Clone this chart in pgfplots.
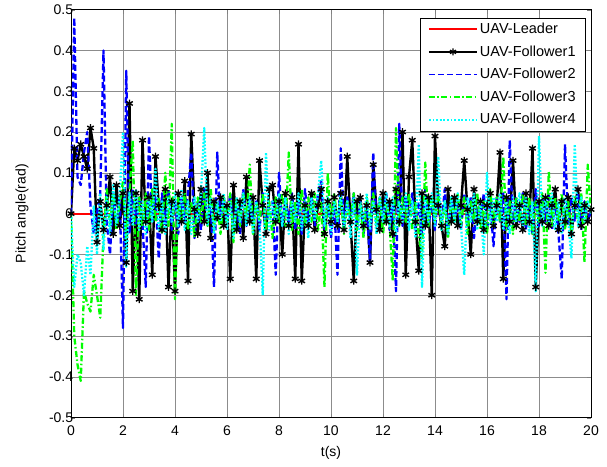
\documentclass[border=0pt]{standalone}
\usepackage{pgfplots}
\usepackage{pgfplotstable}
\pgfplotsset{compat=1.18}
\usepackage{fontspec}
\setmainfont{Liberation Sans}

\definecolor{mred}{rgb}{1,0,0}
\definecolor{mblue}{rgb}{0,0,1}
\definecolor{mgreen}{rgb}{0,1,0}
\definecolor{mcyan}{rgb}{0,1,1}

% t, follower1..4 (leader stays at 0)
\pgfplotstableread{
t f1 f2 f3 f4
0 0 0 0 0
0.125 0.16 0.48 -0.30 -0.18
0.25 0.13 0.09 -0.37 -0.10
0.375 0.17 0.07 -0.41 -0.12
0.5 0.14 0.15 -0.19 -0.20
0.625 0.11 0.20 -0.22 -0.08
0.75 0.21 0.02 -0.24 -0.15
0.875 0.16 -0.05 -0.15 0.02
1.0 -0.07 0.00 -0.20 -0.10
1.125 0.03 0.05 -0.255 0.05
1.25 -0.04 0.40 -0.05 -0.09
1.375 0.02 -0.02 0.06 0.04
1.5 0.09 -0.10 -0.03 -0.05
1.625 -0.05 0.05 0.05 0.07
1.75 0.07 -0.03 -0.04 -0.03
1.875 -0.03 0.04 0.03 0.05
2.0 0.05 -0.28 0.08 0.20
2.125 -0.12 0.35 -0.06 -0.13
2.25 0.27 -0.05 0.05 0.05
2.375 -0.19 0.06 0.18 -0.03
2.5 0.05 -0.03 -0.20 0.06
2.625 -0.21 0.04 0.04 -0.04
2.75 0.18 -0.02 -0.03 0.03
2.875 -0.02 -0.18 0.05 -0.05
3.0 0.04 0.19 -0.04 0.04
3.125 -0.15 -0.02 0.06 -0.02
3.25 0.14 0.04 -0.02 0.11
3.375 0.02 -0.11 0.04 -0.04
3.5 -0.04 0.05 -0.05 0.03
3.625 0.06 -0.03 0.10 -0.05
3.75 -0.18 0.06 -0.03 0.04
3.875 0.03 -0.04 0.22 -0.02
4.0 -0.19 0.03 -0.21 0.05
4.125 0.05 -0.05 0.04 -0.03
4.25 -0.02 0.04 -0.02 0.06
4.375 0.08 -0.02 0.05 -0.04
4.5 -0.165 0.05 -0.04 0.03
4.625 0.195 0.15 0.03 -0.05
4.75 0.01 -0.06 -0.06 0.04
4.875 -0.05 0.03 0.04 -0.02
5.0 0.06 -0.04 -0.02 0.05
5.125 -0.02 0.06 0.05 0.21
5.25 0.10 -0.02 -0.03 -0.03
5.375 -0.06 0.03 0.06 0.04
5.5 0.03 -0.18 -0.04 -0.05
5.625 -0.01 0.15 0.03 0.03
5.75 0.04 -0.03 -0.05 -0.02
5.875 -0.03 0.04 0.04 0.05
6.0 0.02 -0.02 -0.02 -0.04
6.125 -0.16 0.05 0.05 0.03
6.25 0.07 -0.04 -0.07 -0.06
6.375 -0.04 0.02 0.04 0.04
6.5 0.03 -0.05 -0.03 -0.02
6.625 -0.06 0.06 0.05 0.05
6.75 0.09 -0.03 -0.02 -0.03
6.875 -0.02 0.04 0.12 0.04
7.0 0.04 -0.02 -0.05 -0.05
7.125 -0.16 0.03 0.03 0.03
7.25 0.13 -0.04 -0.02 -0.02
7.375 0.02 0.05 0.05 -0.20
7.5 -0.05 -0.03 -0.04 0.15
7.625 0.06 0.02 0.03 -0.04
7.75 0.07 0.03 -0.06 0.03
7.875 -0.02 -0.15 0.04 -0.02
8.0 0.03 0.10 -0.02 0.05
8.125 -0.10 -0.03 0.05 -0.03
8.25 0.05 0.04 -0.03 0.04
8.375 -0.03 -0.02 0.15 -0.05
8.5 0.04 0.05 -0.04 0.03
8.625 -0.16 -0.04 0.03 -0.02
8.75 0.17 0.03 -0.05 0.05
8.875 -0.165 -0.05 0.06 -0.04
9.0 0.02 0.06 -0.03 0.03
9.125 -0.03 -0.02 0.04 -0.06
9.25 0.05 0.04 -0.02 0.04
9.375 -0.04 -0.03 0.05 -0.02
9.5 0.02 0.05 -0.04 0.05
9.625 0.06 0.08 0.03 0.13
9.75 -0.05 -0.04 -0.18 -0.03
9.875 0.03 0.03 0.10 0.04
10.0 -0.02 -0.06 -0.03 -0.05
10.125 0.04 0.02 0.05 0.03
10.25 -0.03 -0.15 -0.02 -0.02
10.375 0.05 0.16 0.04 0.05
10.5 -0.04 -0.03 -0.05 -0.04
10.625 0.14 0.04 0.03 0.03
10.75 -0.02 -0.02 -0.02 -0.06
10.875 -0.165 0.05 0.05 0.04
11.0 0.03 -0.04 -0.04 -0.15
11.125 0.04 0.03 0.03 0.03
11.25 -0.03 -0.05 -0.06 -0.02
11.375 0.02 0.02 0.04 0.05
11.5 -0.12 -0.12 -0.02 -0.04
11.625 0.12 0.15 0.05 0.03
11.75 0.01 -0.03 -0.03 -0.05
11.875 -0.04 0.04 0.04 0.04
12.0 0.05 -0.02 -0.05 -0.02
12.125 -0.02 0.05 0.03 0.05
12.25 0.03 -0.04 -0.02 -0.03
12.375 -0.05 0.03 -0.165 0.04
12.5 0.06 -0.19 0.21 -0.05
12.625 -0.02 0.22 -0.03 0.03
12.75 0.20 -0.03 0.04 -0.02
12.875 -0.15 0.04 -0.02 0.05
13.0 0.09 -0.02 0.05 -0.04
13.125 0.18 0.05 -0.04 0.03
13.25 -0.02 -0.04 0.03 -0.06
13.375 -0.14 0.03 -0.05 0.17
13.5 0.05 -0.05 -0.11 -0.18
13.625 -0.03 0.06 0.125 0.04
13.75 0.04 -0.03 -0.03 -0.02
13.875 -0.20 0.02 0.04 0.05
14.0 0.19 -0.04 -0.02 -0.03
14.125 0.02 0.05 0.05 0.14
14.25 -0.03 -0.03 -0.04 -0.04
14.375 -0.08 0.06 0.03 0.03
14.5 0.06 -0.05 -0.06 -0.05
14.625 -0.02 0.04 0.04 0.04
14.75 0.04 -0.02 -0.02 -0.02
14.875 -0.03 0.03 0.05 0.05
15.0 0.02 -0.04 -0.03 -0.03
15.125 0.13 0.05 0.04 -0.15
15.25 0.01 -0.03 -0.05 0.04
15.375 -0.10 0.04 0.03 -0.02
15.5 0.06 -0.06 -0.02 0.05
15.625 -0.02 0.03 0.05 -0.04
15.75 0.03 -0.02 -0.04 0.03
15.875 -0.04 0.05 0.03 -0.10
16.0 0.02 -0.04 -0.05 0.10
16.125 0.05 0.03 0.06 -0.03
16.25 -0.03 -0.08 -0.03 0.04
16.375 0.02 0.04 0.04 -0.02
16.5 0.15 -0.02 -0.02 0.05
16.625 -0.16 0.05 0.14 -0.04
16.75 0.04 -0.21 -0.04 0.03
16.875 -0.02 0.18 0.03 -0.05
17.0 0.13 -0.03 -0.05 0.04
17.125 -0.03 0.04 0.04 -0.02
17.25 0.02 -0.02 -0.02 0.05
17.375 -0.04 0.05 0.05 -0.03
17.5 0.05 -0.04 -0.03 0.04
17.625 -0.02 0.03 0.04 -0.05
17.75 0.16 -0.05 -0.05 0.03
17.875 -0.18 0.06 0.03 -0.19
18.0 0.03 -0.03 -0.02 0.19
18.125 -0.02 0.04 0.05 -0.03
18.25 0.04 -0.02 -0.145 0.04
18.375 -0.03 0.05 0.105 -0.02
18.5 0.02 -0.04 -0.03 0.05
18.625 0.06 0.03 0.04 -0.04
18.75 -0.04 -0.05 -0.02 0.03
18.875 0.03 -0.16 0.05 -0.05
19.0 -0.02 0.17 -0.04 0.04
19.125 0.04 -0.03 0.03 -0.02
19.25 -0.05 0.04 -0.05 -0.11
19.375 0.02 -0.02 0.04 0.17
19.5 0.06 0.05 -0.02 -0.03
19.625 -0.03 -0.04 0.05 0.04
19.75 0.02 0.03 -0.12 -0.02
19.875 -0.02 -0.02 0.12 0.03
20.0 0.01 0.01 0.00 0.00
}\pitchdata

\begin{document}
\fontsize{14bp}{16bp}\selectfont
\begin{tikzpicture}[x=1bp,y=1bp]
\begin{axis}[
    scale only axis,
    width=520bp, height=408bp,
    xmin=0, xmax=20, ymin=-0.5, ymax=0.5,
    xtick={0,2,...,20},
    ytick={-0.5,-0.4,...,0.5},
    /pgf/number format/assume math mode=true,
    yticklabel style={/pgf/number format/fixed, /pgf/number format/precision=1, xshift=7bp},
    xticklabel style={yshift=-3bp},
    tick label style={font=\fontsize{14bp}{16bp}\selectfont},
    tick align=inside,
    major tick length=4bp,
    grid=major,
    grid style={solid, black!45, line width=0.6bp},
    axis line style={black, line width=0.8bp},
    xlabel={t(s)},
    ylabel={Pitch angle(rad)},
    every axis x label/.style={at={(axis description cs:0.5,-0.086)}, anchor=center, font=\fontsize{14bp}{16bp}\selectfont},
    every axis y label/.style={at={(axis description cs:-0.094,0.5)}, rotate=90, anchor=center, font=\fontsize{14bp}{16bp}\selectfont},
    legend style={at={(rel axis cs:0.99,0.98)}, anchor=north east,
        font=\fontsize{14.5bp}{16bp}\selectfont,
        inner xsep=8bp, inner ysep=3bp, row sep=6bp, cells={anchor=west}},
    legend image code/.code={
        \draw[#1, mark=none] (0bp,0bp) -- (48bp,0bp);
        \draw[#1, only marks] plot coordinates {(24bp,0bp)};
    },
    every axis plot/.append style={line join=round},
]
\addplot[forget plot, draw=mred, line width=1.8bp] coordinates {(0,0) (20,0)};
\addplot[forget plot, draw=black, line width=2.4bp, mark=asterisk, mark size=3.8bp,
    mark options={solid, draw=black, line width=1.4bp}] table[x=t, y=f1] {\pitchdata};
\addplot[forget plot, draw=mblue, line width=2.3bp, dash pattern=on 6bp off 3bp] table[x=t, y=f2] {\pitchdata};
\addplot[forget plot, draw=mgreen, line width=2.3bp, dash pattern=on 6bp off 2.5bp on 1.5bp off 2.5bp] table[x=t, y=f3] {\pitchdata};
\addplot[forget plot, draw=mcyan, line width=2.3bp, dash pattern=on 1.8bp off 1.8bp] table[x=t, y=f4] {\pitchdata};

\addlegendimage{draw=mred, line width=1.8bp}
\addlegendentry{UAV-Leader}
\addlegendimage{draw=black, line width=2bp, mark=asterisk, mark size=3.5bp, mark options={solid, draw=black, line width=1.3bp}}
\addlegendentry{UAV-Follower1}
\addlegendimage{draw=mblue, line width=1.8bp, dash pattern=on 6bp off 3bp}
\addlegendentry{UAV-Follower2}
\addlegendimage{draw=mgreen, line width=1.8bp, dash pattern=on 6bp off 2.5bp on 1.5bp off 2.5bp}
\addlegendentry{UAV-Follower3}
\addlegendimage{draw=mcyan, line width=1.8bp, dash pattern=on 1.8bp off 1.8bp}
\addlegendentry{UAV-Follower4}
\end{axis}
\path ([xshift=-71bp,yshift=-49bp]current axis.south west) rectangle ([xshift=16bp,yshift=9bp]current axis.north east);
\end{tikzpicture}
\end{document}
